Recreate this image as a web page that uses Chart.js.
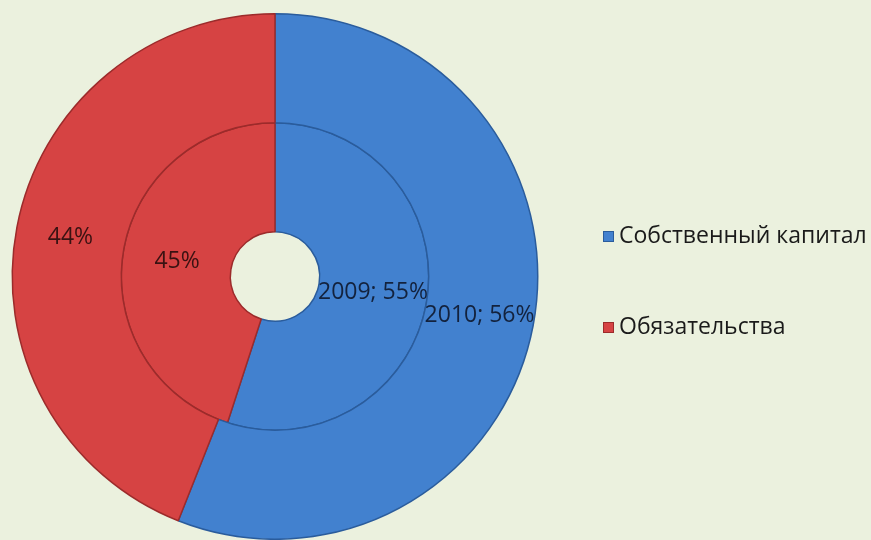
<!DOCTYPE html>
<html>
<head>
<meta charset="utf-8">
<script src="https://cdn.jsdelivr.net/npm/chart.js@4.4.1/dist/chart.umd.min.js"></script>
<style>
  html, body { margin: 0; padding: 0; background: #ebf1de; }
  #wrap { width: 871px; height: 540px; position: relative; }
</style>
</head>
<body>
<div id="wrap"><canvas id="capitalChart"></canvas></div>
<script>
// --- Data ---
const years = ["2010", "2009"]; // outer ring first, inner ring second
const categories = ["Собственный капитал", "Обязательства"];
const equityShare = [56, 55];
const liabilityShare = [44, 45];

const fillColors = ["#4281cf", "#d64343"];
const edgeColors = ["#2a5c9c", "#9c2b2b"];
const labelColors = ["#13223d", "#3a1212"];
const FONT = "'Open Sans', 'DejaVu Sans', sans-serif";

// Data labels: "year; pct%" on the first slice, "pct%" on the second
const sliceLabels = {
  id: "sliceLabels",
  afterDatasetsDraw(chart) {
    const ctx = chart.ctx;
    ctx.save();
    ctx.font = "23px " + FONT;
    ctx.textAlign = "center";
    ctx.textBaseline = "middle";
    chart.data.datasets.forEach((ds, di) => {
      const meta = chart.getDatasetMeta(di);
      meta.data.forEach((arc, i) => {
        const p = arc.getProps(["x", "y", "startAngle", "endAngle", "innerRadius", "outerRadius"], true);
        const mid = (p.startAngle + p.endAngle) / 2;
        const r = (p.innerRadius + p.outerRadius) / 2;
        const x = p.x + Math.cos(mid) * r;
        const y = p.y + Math.sin(mid) * r;
        const text = i === 0 ? ds.label + "; " + ds.data[i] + "%" : ds.data[i] + "%";
        ctx.fillStyle = labelColors[i];
        ctx.fillText(text, x, y);
      });
    });
    ctx.restore();
  },
};

// Legend drawn on the right side
const sideLegend = {
  id: "sideLegend",
  afterDraw(chart) {
    const ctx = chart.ctx;
    ctx.save();
    ctx.font = "23px " + FONT;
    ctx.textBaseline = "middle";
    ctx.textAlign = "left";
    const rows = [236, 327];
    chart.data.labels.forEach((lbl, i) => {
      const y = rows[i];
      ctx.fillStyle = fillColors[i];
      ctx.strokeStyle = edgeColors[i];
      ctx.lineWidth = 1;
      ctx.fillRect(603, y - 5, 11, 11);
      ctx.strokeRect(603.5, y - 4.5, 10, 10);
      ctx.fillStyle = "#1a1a1a";
      ctx.fillText(lbl, 619, y);
    });
    ctx.restore();
  },
};

const datasets = years.map((year, i) => ({
  label: year,
  data: [equityShare[i], liabilityShare[i]],
  backgroundColor: fillColors,
  borderColor: edgeColors,
  borderWidth: 1.5,
}));

new Chart(document.getElementById("capitalChart"), {
  type: "doughnut",
  data: {
    labels: categories,
    datasets: datasets,
  },
  options: {
    responsive: true,
    maintainAspectRatio: false,
    animation: false,
    cutout: "17%",
    layout: {
      padding: { left: 5, top: 13, right: 326, bottom: 0 },
    },
    plugins: {
      legend: { display: false },
      tooltip: { enabled: false },
    },
  },
  plugins: [sliceLabels, sideLegend],
});
</script>
</body>
</html>
